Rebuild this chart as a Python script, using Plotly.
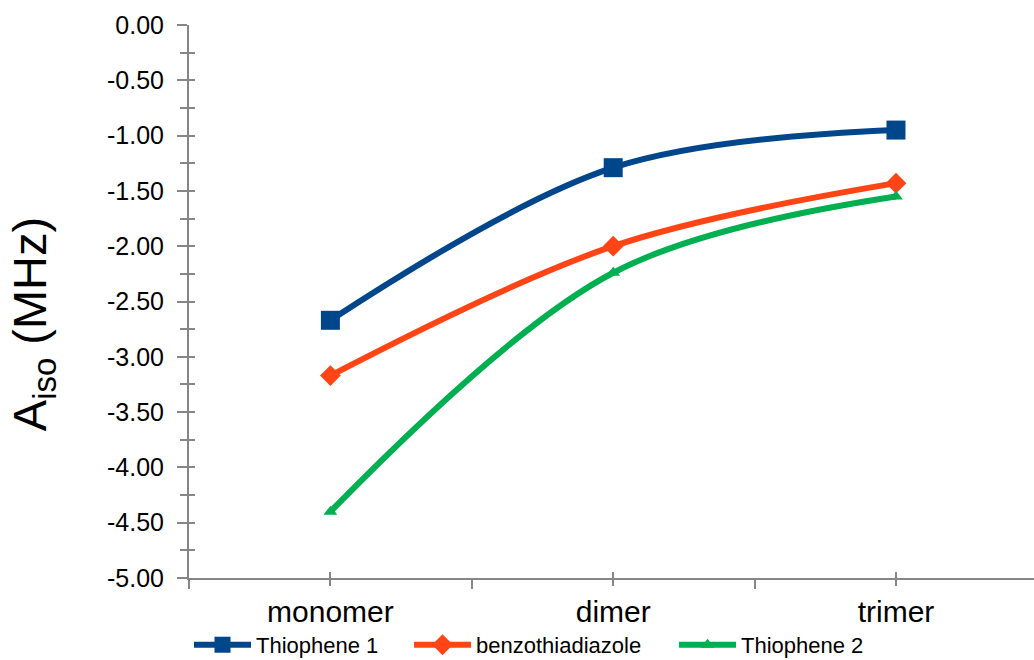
import plotly.graph_objects as go

# Hyperfine coupling constants per oligomer length
categories = ["monomer", "dimer", "trimer"]
thiophene_1 = [-2.67, -1.29, -0.95]
benzothiadiazole = [-3.17, -2.00, -1.43]
thiophene_2 = [-4.40, -2.24, -1.55]

y_tick_vals = [0, -0.5, -1, -1.5, -2, -2.5, -3, -3.5, -4, -4.5, -5]
y_tick_text = ["0.00", "-0.50", "-1.00", "-1.50", "-2.00", "-2.50",
               "-3.00", "-3.50", "-4.00", "-4.50", "-5.00"]

x_pos = list(range(len(categories)))
axis_grey = "#868686"
font_family = "Arial, Liberation Sans, sans-serif"

fig = go.Figure()

# each series gets its own legend box along the bottom row
series = [
    ("Thiophene 1", thiophene_1, "#00468B", "square", 19, "legend"),
    ("benzothiadiazole", benzothiadiazole, "#FF4515", "diamond", 16, "legend2"),
    ("Thiophene 2", thiophene_2, "#00B050", "triangle-up", 12, "legend3"),
]
for name, vals, color, symbol, msize, leg in series:
    fig.add_trace(go.Scatter(
        x=x_pos, y=vals, name=name, mode="lines+markers", legend=leg,
        line=dict(color=color, width=6, shape="spline", smoothing=1),
        marker=dict(color=color, symbol=symbol, size=msize),
    ))

# helper trace so the overlay axes (inner tick marks) are drawn
fig.add_trace(go.Scatter(
    x=[None], y=[None], xaxis="x2", yaxis="y2",
    showlegend=False, hoverinfo="skip",
))

legend_style = dict(
    orientation="h", xanchor="left", y=-0.159, yanchor="bottom",
    font=dict(size=22, family=font_family), itemwidth=57,
    bgcolor="rgba(0,0,0,0)",
)

fig.update_layout(
    width=1034, height=660,
    margin=dict(l=189, r=0, t=25, b=82, autoexpand=False),
    paper_bgcolor="white", plot_bgcolor="white",
    font=dict(family=font_family, color="black"),
    showlegend=True,
    legend=dict(x=0, **legend_style),
    legend2=dict(x=0.2604, **legend_style),
    legend3=dict(x=0.574, **legend_style),
    xaxis=dict(
        range=[-0.5, 2.488], tickmode="array", tickvals=x_pos,
        ticktext=categories, showgrid=False, zeroline=False,
        showline=True, linecolor=axis_grey, linewidth=2,
        ticks="outside", ticklen=6, tickwidth=2, tickcolor=axis_grey,
        tickfont=dict(size=30), ticklabelstandoff=0, automargin=False,
        minor=dict(tickvals=[-0.5, 0.5, 1.5, 2.5], ticks="outside",
                   ticklen=9, tickwidth=2, tickcolor=axis_grey),
    ),
    xaxis2=dict(
        range=[-0.5, 2.488], overlaying="x", anchor="y", side="bottom",
        tickmode="array", tickvals=x_pos, ticks="inside", ticklen=6,
        tickwidth=2, tickcolor=axis_grey, showticklabels=False,
        showgrid=False, zeroline=False, showline=False, automargin=False,
    ),
    yaxis=dict(
        range=[-5, 0], tickmode="array", tickvals=y_tick_vals,
        ticktext=y_tick_text, showgrid=False, zeroline=False,
        showline=True, linecolor=axis_grey, linewidth=2,
        ticks="outside", ticklen=10, tickwidth=2, tickcolor=axis_grey,
        tickfont=dict(size=25), ticklabelstandoff=8, automargin=False,
        minor=dict(dtick=0.25, tick0=0, ticks="outside", ticklen=7,
                   tickwidth=2, tickcolor=axis_grey),
    ),
    yaxis2=dict(
        range=[-5, 0], overlaying="y", anchor="x", side="left",
        tickmode="linear", tick0=0, dtick=0.25, ticks="inside",
        ticklen=6, tickwidth=2, tickcolor=axis_grey,
        showticklabels=False, showgrid=False, zeroline=False,
        showline=False, automargin=False,
    ),
    annotations=[dict(
        text="A<sub>iso</sub> (MHz)", textangle=-90,
        xref="paper", yref="paper", x=-0.1846, y=0.459,
        xanchor="center", yanchor="middle", showarrow=False,
        font=dict(size=47, family=font_family, color="black"),
    )],
)

fig.write_html("out.html")
